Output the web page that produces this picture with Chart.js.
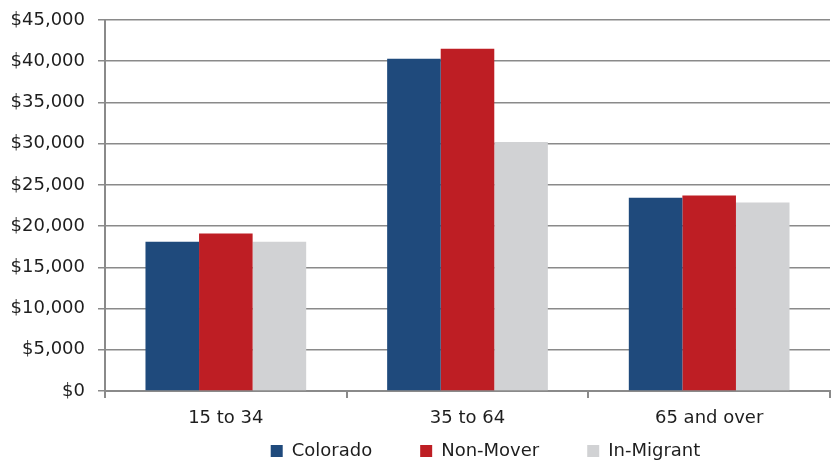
<!DOCTYPE html>
<html>
<head>
<meta charset="utf-8">
<script src="https://cdn.jsdelivr.net/npm/chart.js@4"></script>
<style>
    html, body { margin: 0; padding: 0; background: #fff; }
    #wrap { width: 838px; height: 462px; }
</style>
</head>
<body>
<div id="wrap"><canvas id="incomeChart"></canvas></div>
<script>
// ================= DATA =================
const ageGroups = ['15 to 34', '35 to 64', '65 and over'];
const colorado = [18100, 40300, 23450];
const nonMover = [19100, 41500, 23700];
const inMigrant = [18100, 30200, 22850];

const seriesNames = ['Colorado', 'Non-Mover', 'In-Migrant'];
const seriesColors = ['#1F4A7C', '#BE1E24', '#D1D2D4'];

const yMax = 45000;
const yStep = 5000;

const gridColor = '#8a8a8a';
const textColor = '#1e1e1e';

// geser legend biar posisinya sama kayak gambar
const legendShift = {
    id: 'legendShift',
    afterLayout(chart) {
        const lg = chart.legend;
        if (!lg) return;
        lg.left += 18;
        lg.right += 18;
        lg.top = 394;
        lg.bottom = 462;
        lg.height = lg.bottom - lg.top;
    }
};

function initIncomeChart() {
    const ctx = document.getElementById('incomeChart');
    if (!ctx) return;

    const datasets = [colorado, nonMover, inMigrant].map((values, i) => ({
        label: seriesNames[i],
        data: values,
        backgroundColor: seriesColors[i],
        borderWidth: 0,
        categoryPercentage: 0.665,
        barPercentage: 1.0
    }));

    new Chart(ctx, {
        type: 'bar',
        data: { labels: ageGroups, datasets: datasets },
        options: {
            responsive: true,
            maintainAspectRatio: false,
            animation: false,
            layout: { padding: { top: 20, right: 8, left: 0, bottom: 0 } },
            font: { family: '"DejaVu Sans", sans-serif', size: 18 },
            plugins: {
                legend: {
                    position: 'bottom',
                    fullSize: false,
                    maxHeight: 30,
                    labels: {
                        boxWidth: 12,
                        boxHeight: 12,
                        padding: 48,
                        color: textColor,
                        font: { family: '"DejaVu Sans", sans-serif', size: 18 }
                    }
                },
                tooltip: { enabled: false }
            },
            scales: {
                x: {
                    grid: {
                        display: true,
                        offset: true,
                        drawOnChartArea: false,
                        drawTicks: true,
                        tickLength: 7,
                        color: gridColor,
                        lineWidth: 2
                    },
                    border: { color: gridColor, width: 2 },
                    ticks: {
                        color: textColor,
                        padding: 10,
                        font: { family: '"DejaVu Sans", sans-serif', size: 18 }
                    },
                    afterFit: function(scale) { scale.height = 41; }
                },
                y: {
                    min: 0,
                    max: yMax,
                    grid: {
                        color: gridColor,
                        lineWidth: 1.5,
                        tickLength: 7
                    },
                    border: { color: gridColor, width: 2 },
                    ticks: {
                        stepSize: yStep,
                        color: textColor,
                        padding: 13,
                        font: { family: '"DejaVu Sans", sans-serif', size: 18 },
                        callback: v => '$' + v.toLocaleString('en-US')
                    },
                    afterFit: function(scale) {
                        scale.width = 105;
                        scale.paddingTop = 0;
                        scale.paddingBottom = 0;
                    }
                }
            }
        },
        plugins: [legendShift]
    });
}

document.addEventListener('DOMContentLoaded', initIncomeChart);
</script>
</body>
</html>
